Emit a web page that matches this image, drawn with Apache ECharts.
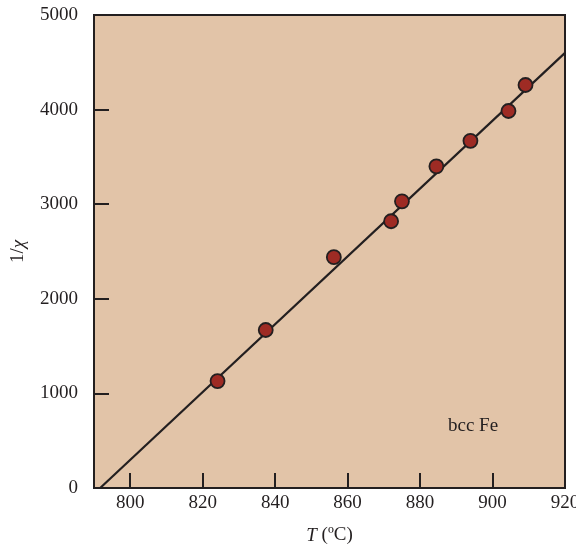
<!DOCTYPE html>
<html>
<head>
<meta charset="utf-8">
<script src="https://cdn.jsdelivr.net/npm/echarts@6/dist/echarts.min.js"></script>
<style>
  html, body { margin: 0; padding: 0; background: #fff; }
  #chart { width: 576px; height: 548px; }
</style>
</head>
<body>
<div id="chart"></div>
<script>
// measured points, T in degrees C and inverse susceptibility
var tempC = [824.1, 837.4, 856.2, 872.0, 875.0, 884.5, 893.9, 904.4, 909.1];
var invChi = [1130, 1670, 2440, 2820, 3030, 3400, 3670, 3985, 4260];

// fitted line end points
var fitT = [791.7, 920];
var fitInvChi = [0, 4600];

var xTicks = [800, 820, 840, 860, 880, 900, 920];

var font = 'Liberation Serif';
var ink = '#231f20';

var chart = echarts.init(document.getElementById('chart'));

var points = tempC.map(function (t, i) { return [t, invChi[i]]; });
var fitLine = fitT.map(function (t, i) { return [t, fitInvChi[i]]; });

chart.setOption({
  animation: false,
  grid: {
    left: 94, top: 15, right: 11, bottom: 60,
    outerBoundsMode: 'none',
    show: true,
    backgroundColor: '#e2c4a8',
    borderColor: ink,
    borderWidth: 2
  },
  xAxis: {
    type: 'value',
    min: 790,
    max: 920,
    name: '{i|T} ({n|ºC})',
    nameLocation: 'middle',
    nameGap: 38,
    nameTextStyle: {
      rich: {
        i: { fontFamily: font, fontSize: 19, fontStyle: 'italic', color: ink },
        n: { fontFamily: font, fontSize: 19, color: ink }
      },
      fontFamily: font, fontSize: 19, color: ink
    },
    splitLine: { show: false },
    axisLine: { lineStyle: { color: ink, width: 2 } },
    axisTick: { inside: true, length: 15, customValues: xTicks, lineStyle: { color: ink, width: 2 } },
    axisLabel: { customValues: xTicks, margin: 6, fontFamily: font, fontSize: 19, color: ink }
  },
  yAxis: {
    type: 'value',
    min: 0,
    max: 5000,
    interval: 1000,
    name: '{n|1/}{i|χ}',
    nameLocation: 'middle',
    nameGap: 66,
    nameTextStyle: {
      rich: {
        i: { fontFamily: font, fontSize: 19, fontStyle: 'italic', color: ink },
        n: { fontFamily: font, fontSize: 19, color: ink }
      },
      fontFamily: font, fontSize: 19, color: ink
    },
    splitLine: { show: false },
    axisLine: { lineStyle: { color: ink, width: 2 } },
    axisTick: { inside: true, length: 15, lineStyle: { color: ink, width: 2 } },
    axisLabel: {
      margin: 16, fontFamily: font, fontSize: 19, color: ink,
      formatter: function (v) { return String(v); }
    }
  },
  graphic: [{
    type: 'text',
    left: 448,
    top: 417,
    style: { text: 'bcc Fe', font: '19px "Liberation Serif"', fill: ink }
  }],
  series: [{
    type: 'line',
    data: fitLine,
    symbol: 'none',
    lineStyle: { color: ink, width: 2.2 },
    z: 2
  }, {
    type: 'scatter',
    data: points,
    symbolSize: 14,
    itemStyle: { color: '#9e2b24', borderColor: ink, borderWidth: 1.8, opacity: 1 },
    z: 3
  }]
});
</script>
</body>
</html>
